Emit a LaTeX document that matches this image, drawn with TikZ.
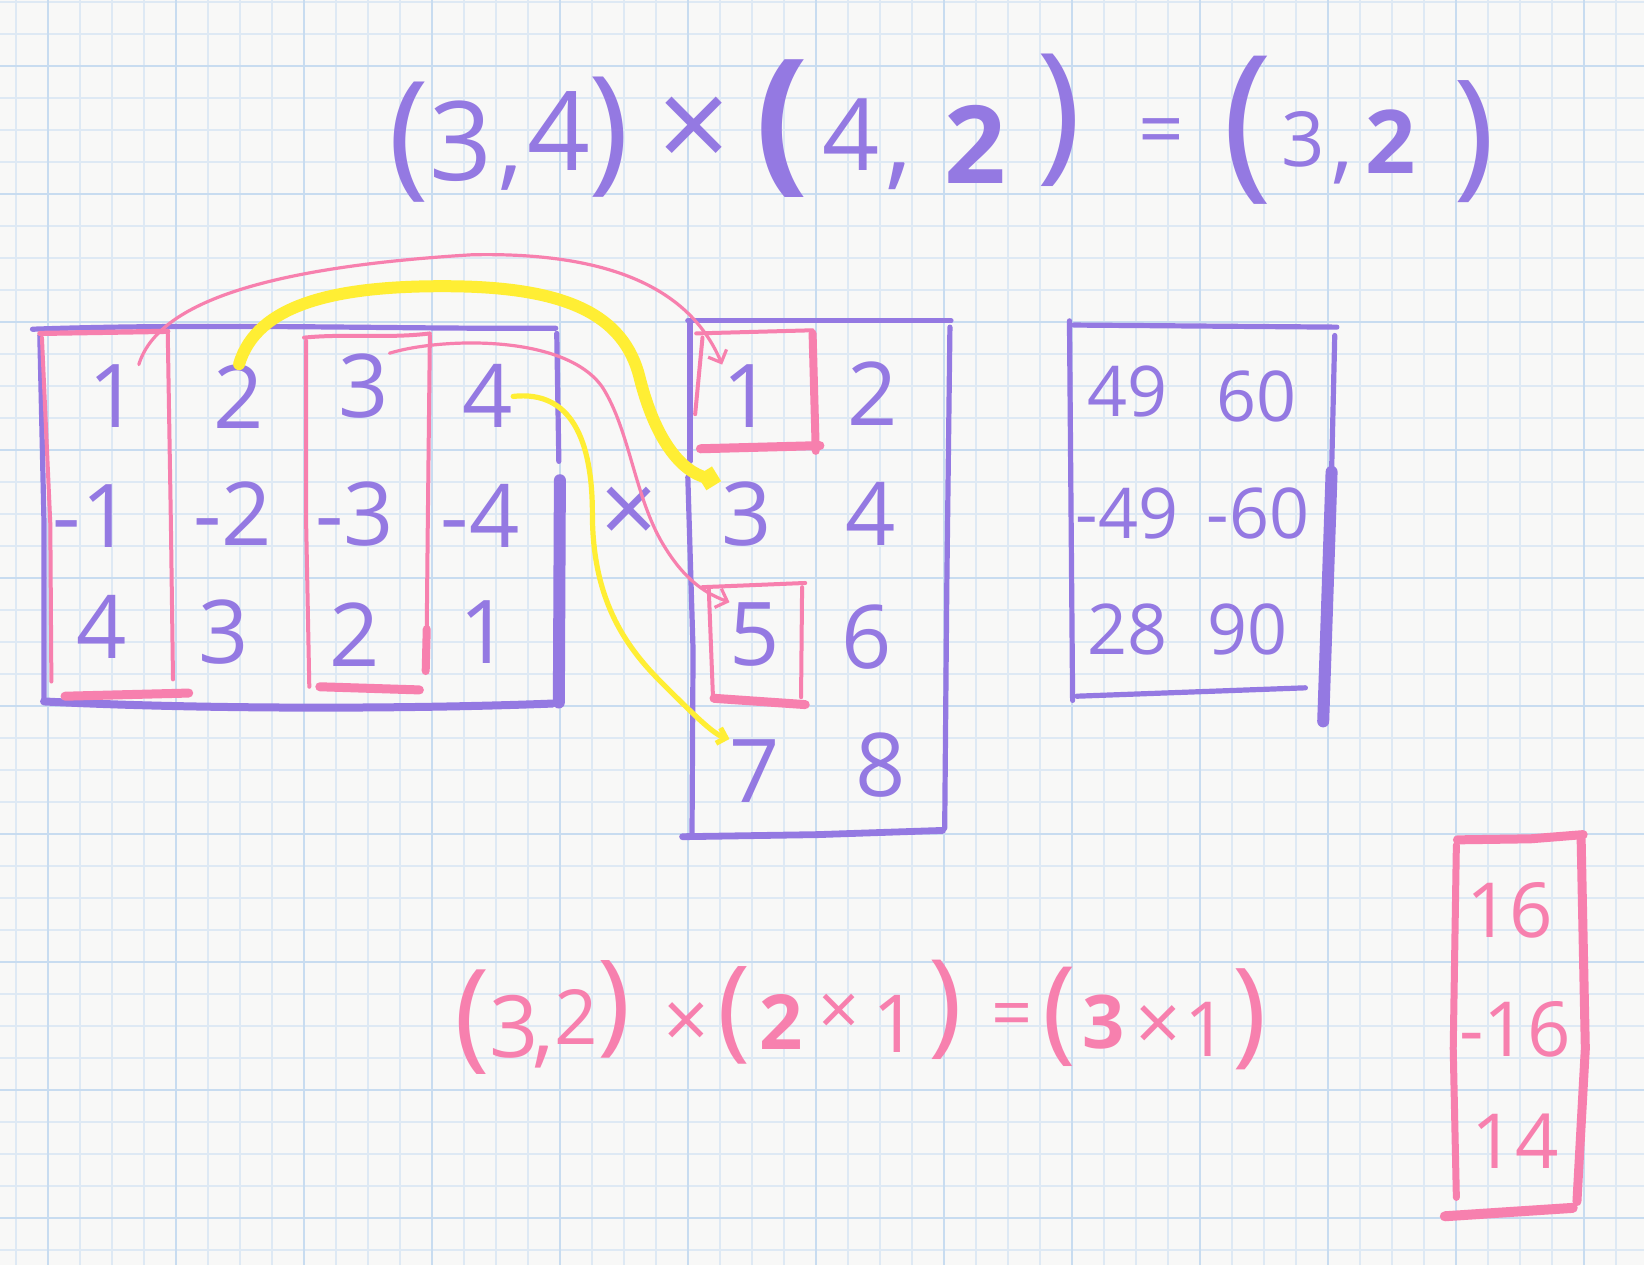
\documentclass[tikz,border=0pt]{standalone}
\usepackage{fontspec}
\setmainfont{Open Sans}
\usepackage{xcolor}
\usepackage{tikz}
\usetikzlibrary{arrows.meta}

\definecolor{paper}{RGB}{248,248,247}
\definecolor{gridminor}{RGB}{222,233,244}
\definecolor{gridmajor}{RGB}{200,220,240}
\definecolor{inkpurple}{RGB}{148,121,226}
\definecolor{inkpink}{RGB}{247,128,174}
\definecolor{inkyellow}{RGB}{255,238,52}

\begin{document}
\begin{tikzpicture}[
  x=0.5pt, y=-0.5pt,
  minor/.style={draw=gridminor, line width=0.8pt},
  major/.style={draw=gridmajor, line width=1.1pt},
  pnum/.style={text=inkpurple, inner sep=0pt, font=\fontsize{#1}{#1}\selectfont},
  pnum/.default=44,
  knum/.style={text=inkpink, inner sep=0pt, font=\fontsize{#1}{#1}\selectfont},
  knum/.default=38,
  pline/.style={draw=inkpurple, line width=#1, line cap=round, line join=round},
  pline/.default=2.6pt,
  kline/.style={draw=inkpink, line width=#1, line cap=round, line join=round},
  kline/.default=2pt,
  karrow/.style={draw=inkpink, line width=1.6pt, line cap=round,
                 -{Straight Barb[length=5pt, width=10pt]}},
  yarrow/.style={draw=inkyellow, line width=#1, line cap=round,
                 -{Straight Barb[length=4pt, width=8pt]}},
]
  \useasboundingbox (0,0) rectangle (1644,1265);
  \fill[paper] (0,0) rectangle (1644,1265);

  % graph paper
  \foreach \x in {16,48,...,1644} \draw[minor] (\x,0) -- (\x,1265);
  \foreach \y in {2,34,...,1265} \draw[minor] (0,\y) -- (1644,\y);
  \foreach \x in {48,176,...,1644} \draw[major] (\x,0) -- (\x,1265);
  \foreach \y in {66,194,...,1265} \draw[major] (0,\y) -- (1644,\y);

  \begin{scope}[scale=1.0485]
  % shapes: (3,4) x (4,2) = (3,2)
  \node[pnum=69] (lpA) at (390,136) {(};
  \node[pnum=55] (sA1) at (440,135) {3};
  \node[pnum=50] (cmA) at (487,170) {,};
  \node[pnum=55] (sA2) at (533,125) {4};
  \node[pnum=69] (rpA) at (581,131) {)};
  \node[pnum=64] (mulA) at (662,128) {×};
  \node[pnum=79] (lpB) at (746,123) {\bfseries (};
  \node[pnum=50] (sB1) at (812,128) {4};
  \node[pnum=55] (cmB) at (857,168) {,};
  \node[pnum=54] (sB2) at (930,138) {\bfseries 2};
  \node[pnum=76] (rpB) at (1010,115) {)};
  \node[pnum=40] (eqA) at (1108,132) {=};
  \node[pnum=85] (lpC) at (1190,124) {(};
  \node[pnum=38] (sC1) at (1243,133) {3};
  \node[pnum=45] (cmC) at (1280,165) {,};
  \node[pnum=44] (sC2) at (1326,135) {\bfseries 2};
  \node[pnum=70] (rpC) at (1406,135) {)};

  % left matrix
  \node[pnum] (a11) at (108,378) {1};
  \node[pnum] (a12) at (228,378) {2};
  \node[pnum] (a13) at (347,368) {3};
  \node[pnum] (a14) at (465,378) {4};
  \node[pnum] (a21) at (88,492) {-1};
  \node[pnum] (a22) at (222,490) {-2};
  \node[pnum] (a23) at (338,490) {-3};
  \node[pnum] (a24) at (458,492) {-4};
  \node[pnum] (a31) at (97,598) {4};
  \node[pnum] (a32) at (213,603) {3};
  \node[pnum] (a33) at (338,605) {2};
  \node[pnum] (a34) at (462,603) {1};

  \node[pnum=50] (times) at (600,492) {×};

  % right matrix
  \node[pnum] (b11) at (713,378) {1};
  \node[pnum] (b12) at (832,375) {2};
  \node[pnum] (b21) at (712,490) {3};
  \node[pnum] (b22) at (830,490) {4};
  \node[pnum] (b31) at (720,605) {5};
  \node[pnum] (b32) at (827,608) {6};
  \node[pnum] (b41) at (720,735) {7};
  \node[pnum] (b42) at (840,730) {8};

  % result
  \node[pnum=35] (c11) at (1075,373) {49};
  \node[pnum=35] (c12) at (1198,378) {60};
  \node[pnum=35] (c21) at (1075,490) {-49};
  \node[pnum=35] (c22) at (1200,490) {-60};
  \node[pnum=35] (c31) at (1075,600) {28};
  \node[pnum=35] (c32) at (1190,600) {90};

  % shapes: (3,2) x (2x1) = (3x1)
  \node[knum=60] (lpD) at (450,975) {(};
  \node[knum=43] (sD1) at (490,979) {3};
  \node[knum=45] (cmD) at (518,1008) {,};
  \node[knum=38] (sD2) at (550,970) {2};
  \node[knum=56] (rpD) at (586,963) {)};
  \node[knum=40] (mulD) at (655,978) {×};
  \node[knum=56] (lpE) at (700,968) {(};
  \node[knum=38] (sE1) at (745,975) {\bfseries 2};
  \node[knum=36] (mulE) at (800,968) {×};
  \node[knum=40] (sE2) at (854,977) {1};
  \node[knum=57] (rpE) at (902,963) {)};
  \node[knum=36] (eqD) at (965,974) {=};
  \node[knum=57] (lpF) at (1010,970) {(};
  \node[knum=37] (sF1) at (1053,975) {\bfseries 3};
  \node[knum=40] (mulF) at (1105,981) {×};
  \node[knum=38] (sF2) at (1150,982) {1};
  \node[knum=58] (rpF) at (1192,972) {)};

  % column vector
  \node[knum] (v1) at (1440,868) {16};
  \node[knum] (v2) at (1445,982) {-16};
  \node[knum] (v3) at (1445,1088) {14};

  % brackets
  \draw[pline] (31,314) .. controls (200,308) and (380,314) .. (530,313);
  \draw[pline] (38,320) -- (42,500) -- (42,668);
  \draw[pline=4pt] (42,669) .. controls (200,677) and (400,676) .. (527,671);
  \draw[pline] (531,318) -- (533,440);
  \draw[pline=6pt] (534,458) -- (533,670);

  \draw[pline] (656,306) -- (907,306);
  \draw[pline] (658,308) -- (658,440);
  \draw[pline] (656,455) -- (661,620) -- (660,795);
  \draw[pline] (906,312) -- (903,560) -- (901,790);
  \draw[pline=3.4pt] (651,798) -- (780,796) -- (899,792);

  \draw[pline] (1020,306) -- (1023,668);
  \draw[pline] (1024,310) -- (1275,312);
  \draw[pline] (1273,320) -- (1270,450);
  \draw[pline=6pt] (1270,450) -- (1262,688);
  \draw[pline] (1027,664) -- (1245,656);

  % highlighted columns and rows
  \draw[kline=2.6pt] (38,318) -- (160,316);
  \draw[kline] (40,322) -- (48,500) -- (49,650);
  \draw[kline] (160,318) -- (163,500) -- (165,648);
  \draw[kline=4.5pt] (62,664) -- (180,661);

  \draw[kline] (290,322) .. controls (330,318) and (370,323) .. (410,318);
  \draw[kline] (292,325) -- (292,500) -- (295,655);
  \draw[kline] (410,320) -- (408,500) -- (407,600);
  \draw[kline=4pt] (407,600) -- (406,640);
  \draw[kline=4.5pt] (305,655) -- (400,658);

  \draw[kline] (664,318) -- (775,315);
  \draw[kline] (670,322) -- (663,395);
  \draw[kline=4pt] (775,318) -- (778,430);
  \draw[kline=4.5pt] (668,428) -- (782,425);

  \draw[kline] (670,560) -- (768,556);
  \draw[kline] (676,562) -- (680,665);
  \draw[kline] (765,560) -- (764,665);
  \draw[kline=4.5pt] (681,666) -- (768,672);

  \draw[kline=4.5pt] (1390,801) -- (1460,800) -- (1510,796);
  \draw[kline=3.5pt] (1389,806) -- (1386,1000) -- (1389,1142);
  \draw[kline=4.5pt] (1508,800) -- (1512,1000) -- (1504,1146);
  \draw[kline=5pt] (1378,1160) -- (1500,1152);

  % arrows
  \draw[karrow] (a11.north east) .. controls (150,290) and (250,255) .. (450,243)
        .. controls (590,240) and (660,280) .. (b11.north west);
  \draw[yarrow=6pt] (a12.north) .. controls (245,290) and (320,272) .. (430,273)
        .. controls (540,274) and (595,300) .. (610,360)
        .. controls (625,420) and (650,450) .. (b21.north west);
  \draw[karrow] (a13.north east) .. controls (420,322) and (540,318) .. (575,370)
        .. controls (600,410) and (605,470) .. (630,515)
        .. controls (650,550) and (670,565) .. (b31.north west);
  \draw[yarrow=2.6pt] (a14.east) .. controls (545,372) and (565,420) .. (565,490)
        .. controls (565,570) and (595,615) .. (630,650)
        .. controls (660,680) and (680,700) .. (b41.north west);
  \end{scope}
\end{tikzpicture}
\end{document}
